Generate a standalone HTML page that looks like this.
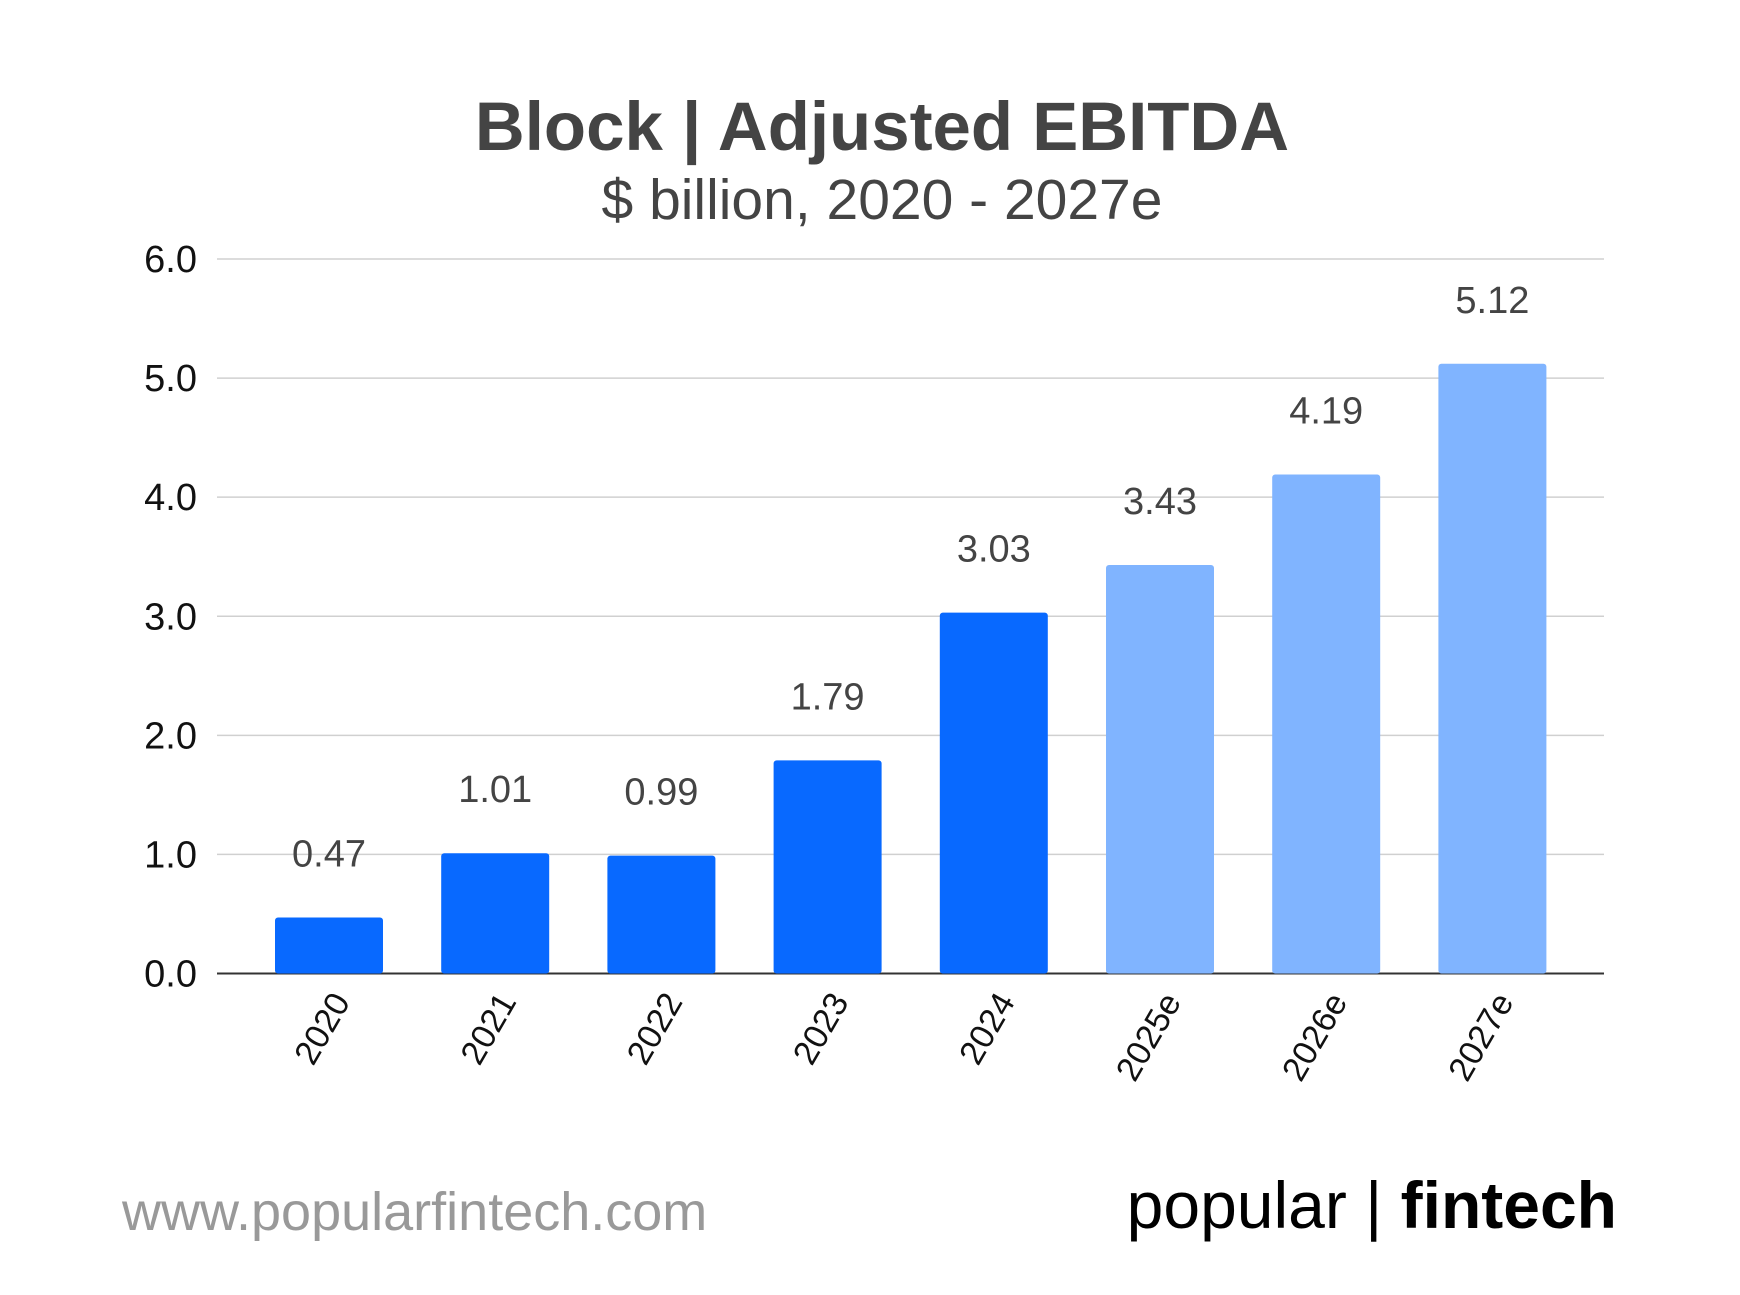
<!DOCTYPE html>
<html><head><meta charset="utf-8"><style>
body{margin:0;background:#fff;}
svg{display:block;font-family:"Liberation Sans",sans-serif;}
</style></head><body>
<svg id="chart" width="1740" height="1295" viewBox="0 0 1740 1295" xmlns="http://www.w3.org/2000/svg">
<rect width="1740" height="1295" fill="#fff"/>
<text x="882" y="150" text-anchor="middle" font-size="69" font-weight="bold" fill="#444">Block | Adjusted EBITDA</text>
<text x="882" y="219" text-anchor="middle" font-size="57" fill="#444">$ billion, 2020 - 2027e</text>
<g id="grid"></g><g id="bars"></g>
<text x="122" y="1230" font-size="54" fill="#999">www.popularfintech.com</text>
<text x="1617" y="1228" text-anchor="end" font-size="66" fill="#000">popular | <tspan font-weight="bold">fintech</tspan></text>
</svg>
<script>
const categories=["2020","2021","2022","2023","2024","2025e","2026e","2027e"];
const values=[0.47,1.01,0.99,1.79,3.03,3.43,4.19,5.12];
const estimates=[false,false,false,false,false,true,true,true];
const ticks=[0,1,2,3,4,5,6];
const NS="http://www.w3.org/2000/svg";
const y0=973.5,y6=259,xL=217,xR=1604;
const y=v=>y0-(y0-y6)*v/6;
const x=i=>329+i*166.2;
function mk(t,a,p){const e=document.createElementNS(NS,t);for(const k in a)e.setAttribute(k,a[k]);p.appendChild(e);return e;}
const g=document.getElementById('grid'),b=document.getElementById('bars');
ticks.forEach(t=>{
 const l=mk('line',{x1:xL,x2:xR,y1:y(t),y2:y(t),stroke:t===0?'#333':'#d0d0d0','stroke-width':t===0?2:1.5},g);
 
 
 const tx=mk('text',{x:197,y:y(t)+13,'text-anchor':'end','font-size':38,fill:'#111'},g);
 
 
 tx.textContent=t.toFixed(1);
});
categories.forEach((c,i)=>{
 const v=values[i];
 const r=mk('rect',{x:x(i)-54,y:y(v),width:108,height:y0-y(v),rx:3,fill:estimates[i]?'#80B4FF':'#0869FF'},b);
 
 
 const vl=mk('text',{x:x(i),y:y(v)-51,'text-anchor':'middle','font-size':38,fill:'#444'},b);
 
 
 vl.textContent=v.toFixed(2);
 const xl=mk('text',{x:0,y:0,'text-anchor':'end','font-size':34,fill:'#111',transform:`translate(${x(i)+22},${y0+28}) rotate(-60)`},b);
 
 
 xl.textContent=c;
});
</script>
</body></html>
